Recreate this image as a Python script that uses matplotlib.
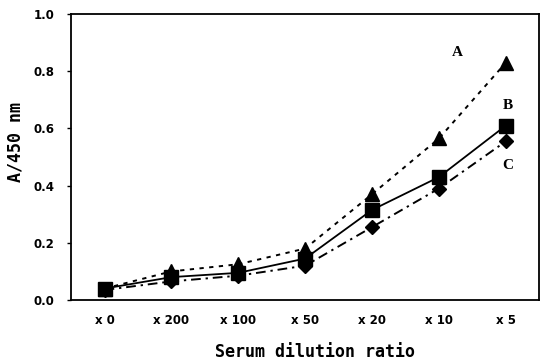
import numpy as np
import matplotlib
matplotlib.use('Agg')
import matplotlib.pyplot as plt

# Dilution steps and absorbance readings
dilutions = ['x 0', 'x 200', 'x 100', 'x 50', 'x 20', 'x 10', 'x 5']
serum_a = [0.04, 0.10, 0.125, 0.18, 0.37, 0.565, 0.83]
serum_b = [0.04, 0.08, 0.095, 0.145, 0.315, 0.43, 0.61]
serum_c = [0.035, 0.065, 0.085, 0.12, 0.255, 0.39, 0.555]
y_ticks = [0.0, 0.2, 0.4, 0.6, 0.8, 1.0]

fig = plt.figure(figsize=(5.43, 3.63), dpi=100)
ax = fig.add_axes([0.131, 0.1736, 0.862, 0.7874])

xs = np.arange(len(dilutions))

ax.plot(xs, serum_a, color='black', lw=1.4, dashes=(2.2, 2.8),
        marker='^', markersize=10, zorder=3)
ax.plot(xs, serum_c, color='black', lw=1.4, dashes=(5, 2.5, 1.2, 2.5),
        marker='D', markersize=7, zorder=3)
ax.plot(xs, serum_b, color='black', lw=1.3, linestyle='-',
        marker='s', markersize=9.5, zorder=4)

# curve labels
ax.text(5.28, 0.865, 'A', family='Liberation Serif', fontweight='bold',
        fontsize=11, ha='center', va='center')
ax.text(6.03, 0.68, 'B', family='Liberation Serif', fontweight='bold',
        fontsize=11, ha='center', va='center')
ax.text(6.03, 0.47, 'C', family='Liberation Serif', fontweight='bold',
        fontsize=11, ha='center', va='center')

ax.set_xlim(-0.5, len(dilutions) - 0.5)
ax.set_ylim(0, 1.0)
ax.set_xticks(xs)
ax.set_xticklabels(dilutions, fontweight='bold', fontsize=8.5)
ax.set_yticks(y_ticks)
ax.set_yticklabels(['%.1f' % v for v in y_ticks], fontweight='bold', fontsize=8.5)
ax.tick_params(axis='x', length=0, pad=10)
ax.tick_params(axis='y', length=3, width=1, pad=9, direction='out')

for sp in ax.spines.values():
    sp.set_linewidth(1.3)

ax.set_xlabel('Serum dilution ratio', family='DejaVu Sans Mono',
              fontweight='bold', fontsize=12)
ax.set_ylabel('A/450 nm', family='DejaVu Sans Mono',
              fontweight='bold', fontsize=12)
ax.xaxis.set_label_coords(0.521, -0.15)
ax.yaxis.set_label_coords(-0.10, 0.554)

fig.savefig('out.png', dpi=100)
